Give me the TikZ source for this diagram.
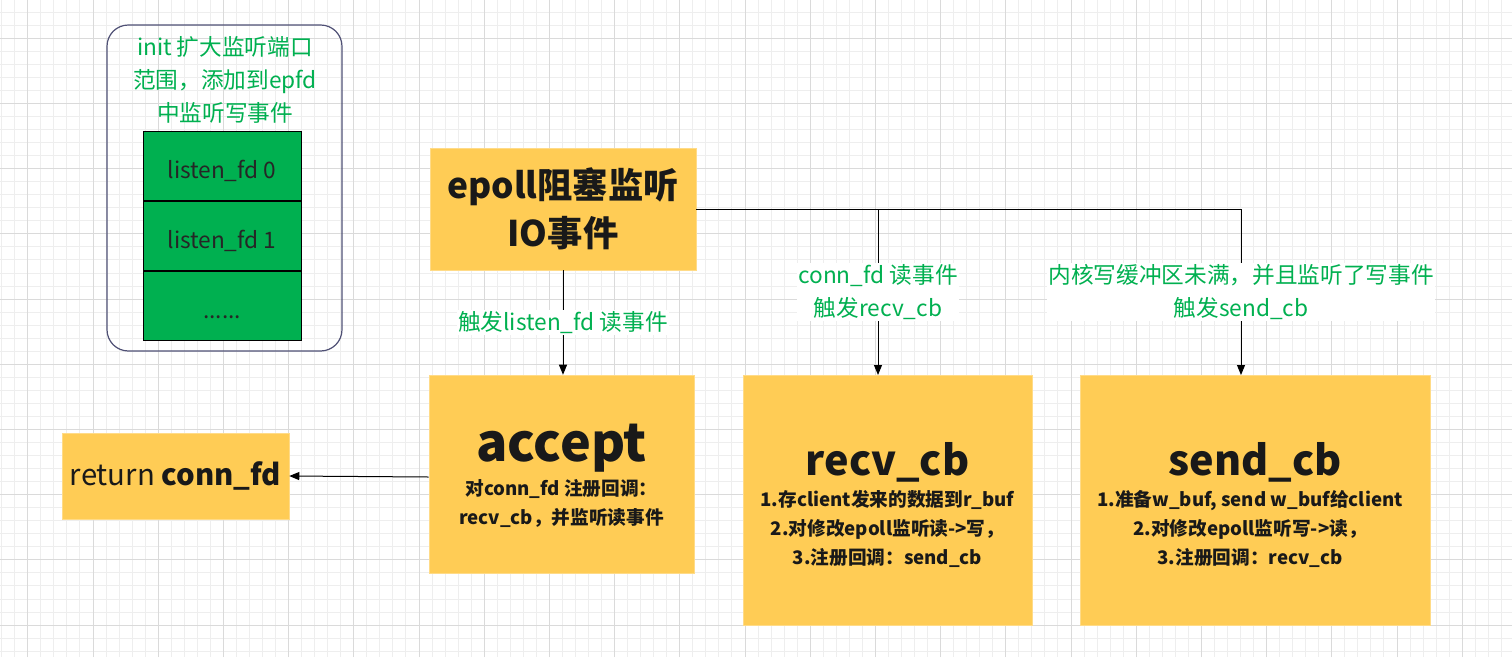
\documentclass[tikz,border=0pt]{standalone}
\usepackage{fontspec}
\setmainfont{Noto Sans CJK SC}
\usepackage{xcolor}
\usepackage{tikz}
\usetikzlibrary{arrows.meta, positioning}

\definecolor{boxyellow}{HTML}{FFCC55}
\definecolor{fdgreen}{HTML}{00B050}
\definecolor{labelgreen}{HTML}{00B050}
\definecolor{framegray}{HTML}{4F5075}
\definecolor{gridminor}{HTML}{EEEEEE}
\definecolor{gridmajor}{HTML}{DADADA}

\begin{document}
\begin{tikzpicture}[
    x=0.75pt, y=-0.75pt,
    box/.style={rectangle, fill=boxyellow, draw=boxyellow!70!white, inner sep=0pt},
    frame/.style={rectangle, draw=framegray, line width=0.9pt, rounded corners=16pt, minimum width=176.25pt, minimum height=244.5pt},
    fdcell/.style={rectangle, draw=black, line width=0.75pt, fill=fdgreen, minimum width=118.5pt, minimum height=51.75pt, inner sep=0pt, text height=22pt, text depth=3pt, font=\fontsize{17}{20}\selectfont, text=black!85},
    ttl/.style={font=\bfseries\fontsize{31}{36}\selectfont, text=black!90},
    desc/.style={align=center, font=\bfseries\fontsize{14}{21.5}\selectfont, text=black!90},
    lbl/.style={align=center, fill=white, text=labelgreen, inner sep=1pt, font=\fontsize{17}{24.5}\selectfont},
    arrow/.style={line width=0.75pt, -{Triangle[length=7.5pt, width=6pt]}},
    line/.style={line width=0.75pt}
]
    % background grid
    \fill[white] (0,0) rectangle (1512,657);
    \useasboundingbox (0,0) rectangle (1512,657);
    \draw[gridminor, line width=0.75pt, step=9.78pt, shift={(27.8,38.3)}] (-27.8,-38.3) grid (1484.2,618.7);
    \draw[gridmajor, line width=0.75pt, step=48.9pt, shift={(27.8,38.3)}] (-27.8,-38.3) grid (1484.2,618.7);

    % listen fds
    \node [frame] (initbox) at (224.5,188) {};
    \node [lbl, fill=none] (inittxt) at (225,80) {init 扩大监听端口\\范围，添加到epfd\\中监听写事件};
    \node [fdcell] (fd0) at (222,165.5) {listen\_fd 0};
    \node [fdcell, below=0pt of fd0] (fd1) {listen\_fd 1};
    \node [fdcell, below=0pt of fd1] (fdmore) {......};

    % epoll
    \node [box, minimum width=199.5pt, minimum height=91.5pt, align=center, font=\bfseries\fontsize{26.5}{36}\selectfont, text=black!90] (epoll) at (563,209) {epoll阻塞监听\\IO事件};

    % accept
    \node [box, minimum width=198.75pt, minimum height=148.5pt] (accept) at (561.5,474) {};
    \node [ttl, font=\bfseries\fontsize{39}{44}\selectfont] (acceptttl) at (561.5,448) {accept};
    \node [desc] (acceptdesc) at (561.5,503.5) {对conn\_fd 注册回调：\\recv\_cb，并监听读事件};

    \node [box, minimum width=170.25pt, minimum height=64.5pt, font=\fontsize{22}{26}\selectfont, text=black!90] (ret) at (175.5,476) {return \textbf{conn\_fd}};

    % recv_cb
    \node [box, minimum width=216.75pt, minimum height=187.5pt] (recvcb) at (887.5,500) {};
    \node [ttl] (recvttl) at (887.5,462) {recv\_cb};
    \node [desc] (recvdesc) at (887.5,529) {1.存client发来的数据到r\_buf\\2.对修改epoll监听读->写，\\3.注册回调：send\_cb};

    % send_cb
    \node [box, minimum width=262.5pt, minimum height=187.5pt] (sendcb) at (1255,500) {};
    \node [ttl] (sendttl) at (1255,462) {send\_cb};
    \node [desc] (senddesc) at (1250,529) {1.准备w\_buf, send w\_buf给client\\2.对修改epoll监听写->读，\\3.注册回调：recv\_cb};

    \coordinate (recvtap) at (878,375);
    \coordinate (sendtap) at (1241,375);

    \draw [arrow] (epoll.south) -- (epoll.south |- accept.north)
        node [lbl, midway] {触发listen\_fd 读事件};
    \draw [arrow] (epoll.east) -| (sendtap);
    \draw [arrow] (epoll.east -| recvtap) -- (recvtap);
    \path (epoll.east -| recvtap) -- (recvtap) node [lbl, midway] {conn\_fd 读事件\\触发recv\_cb};
    \path (epoll.east -| sendtap) -- (sendtap) node [lbl, midway] {内核写缓冲区未满，并且监听了写事件\\触发send\_cb};

    \draw [arrow] ([yshift=-2.25pt]accept.west) -- (ret.east);
\end{tikzpicture}
\end{document}
